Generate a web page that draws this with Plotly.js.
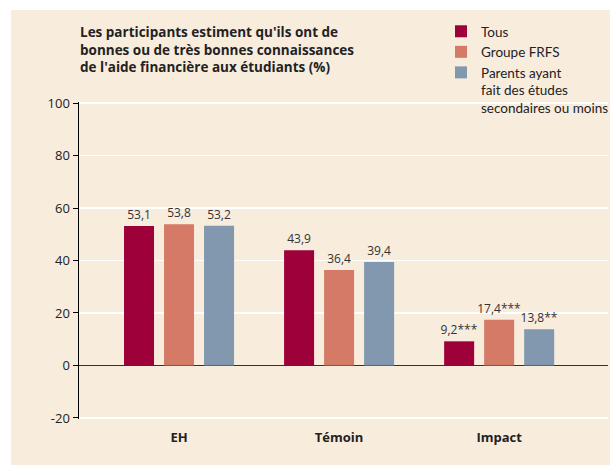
<!DOCTYPE html>
<html><head><meta charset="utf-8">
<script src="https://cdn.plot.ly/plotly-3.0.1.min.js"></script>
<style>
html,body{margin:0;padding:0;background:#fff;width:610px;height:465px;overflow:hidden}
#chart{position:absolute;left:11px;top:10px;width:599px;height:455px}
</style></head><body>
<div id="chart"></div>
<script>
var categories = ["EH", "Témoin", "Impact"];
var seriesNames = ["Tous", "Groupe FRFS", "Parents ayant<br>fait des études<br>secondaires ou moins"];
var tous = [53.1, 43.9, 9.2];
var frfs = [53.8, 36.4, 17.4];
var parents = [53.2, 39.4, 13.8];
var sigTous = ["", "", "***"];
var sigFrfs = ["", "", "***"];
var sigParents = ["", "", "**"];
var yTicks = [-20, 0, 20, 40, 60, 80, 100];
var yTickText = ["-20", "0", "20", "40", "60", "80", "100"];
var colors = ["#9E003A", "#D47A66", "#8198AF"];
var FONT = "Open Sans, Noto Sans, sans-serif";

function mk(name, vals, sig, color) {
  return {
    type: "bar", name: name, x: categories, y: vals, customdata: sig,
    texttemplate: "%{y:.1f}%{customdata}", textposition: "outside",
    constraintext: "none",
    textfont: {family: FONT, size: 12, color: "#333"},
    cliponaxis: false,
    marker: {color: color, line: {width: 0}},
    hoverinfo: "none"
  };
}
var data = [
  mk(seriesNames[0], tous, sigTous, colors[0]),
  mk(seriesNames[1], frfs, sigFrfs, colors[1]),
  mk(seriesNames[2], parents, sigParents, colors[2])
];
var layout = {
  width: 599, height: 455,
  paper_bgcolor: "#F8ECDD", plot_bgcolor: "#F8ECDD",
  separators: ", ",
  margin: {l: 68, r: 2, t: 92, b: 46, autoexpand: false},
  barmode: "group", bargap: 0.25, bargroupgap: 0.25,
  font: {family: FONT, size: 13, color: "#222"},
  title: {
    text: "<b>Les participants estiment qu'ils ont de<br>bonnes ou de très bonnes connaissances<br>de l'aide financière aux étudiants (%)</b>",
    x: 69/599, xanchor: "left", xref: "container",
    y: 1 - 27/455, yanchor: "top", yref: "container",
    font: {family: FONT, size: 13.5, color: "#222"}
  },
  xaxis: {
    range: [-0.625, 2.68], showgrid: false, zeroline: false, showline: false,
    ticks: "outside", ticklen: 6, tickcolor: "rgba(0,0,0,0)",
    tickfont: {family: FONT, size: 13, color: "#222", weight: "bold"},
    fixedrange: true
  },
  yaxis: {
    range: [-20.4, 100.4], tickvals: yTicks, ticktext: yTickText,
    showgrid: true, gridcolor: "#FFFFFF", gridwidth: 1.5,
    zeroline: true, zerolinecolor: "#333", zerolinewidth: 1.5,
    showline: true, linecolor: "#000", linewidth: 1.5,
    ticks: "outside", ticklen: 5, tickcolor: "#000", tickwidth: 1,
    tickfont: {family: FONT, size: 13, color: "#222"},
    fixedrange: true
  },
  showlegend: true,
  legend: {
    xref: "container", yref: "container",
    x: 430/599, xanchor: "left", y: 1 - 6/455, yanchor: "top",
    bgcolor: "rgba(0,0,0,0)", tracegroupgap: 0, itemwidth: 30,
    valign: "top",
    font: {family: "Lato, Open Sans, sans-serif", size: 13.5, color: "#222"},
    traceorder: "normal"
  }
};
Plotly.newPlot("chart", data, layout, {displayModeBar: false, staticPlot: true});
</script></body></html>
